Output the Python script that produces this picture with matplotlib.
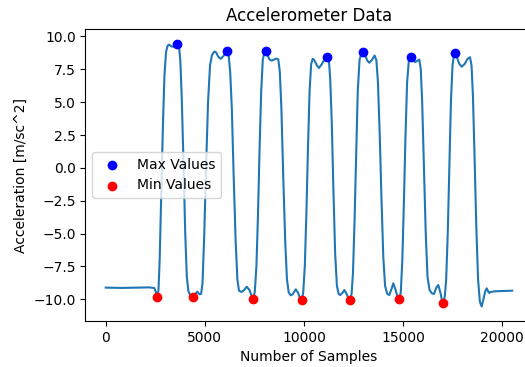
import matplotlib
matplotlib.use('Agg')
import matplotlib.pyplot as plt
import numpy as np


# accelerometer trace (sample index, m/s^2)
samples = [
    0, 800, 1600, 2200, 2450, 2540, 2605, 2660, 2720, 2800, 2880, 2960, 3040, 3120, 3200,
    3300, 3400, 3500, 3612, 3700, 3760, 3830, 3920, 4010, 4090, 4170, 4280, 4420, 4520,
    4620, 4720, 4810, 4880, 4960, 5060, 5160, 5260, 5360, 5480, 5560, 5680, 5800, 5930,
    6050, 6120, 6200, 6280, 6360, 6450, 6550, 6640, 6720, 6850, 6980, 7110, 7250, 7380,
    7445, 7520, 7600, 7680, 7760, 7840, 7920, 8000, 8067, 8150, 8260, 8372, 8500, 8620,
    8705, 8780, 8860, 8950, 9050, 9140, 9230, 9330, 9430, 9582, 9700, 9800, 9884, 9960,
    10040, 10120, 10200, 10280, 10360, 10440, 10520, 10650, 10757, 10900, 11050, 11175,
    11260, 11320, 11400, 11480, 11570, 11660, 11750, 11820, 11950, 12033, 12150, 12250,
    12320, 12400, 12470, 12550, 12630, 12710, 12800, 12900, 12975, 13100, 13200, 13294,
    13420, 13560, 13650, 13730, 13820, 13910, 14000, 14090, 14200, 14302, 14420, 14504,
    14620, 14720, 14806, 14880, 14960, 15040, 15120, 15200, 15290, 15396, 15500, 15598,
    15720, 15815, 15890, 15960, 16050, 16140, 16230, 16330, 16450, 16557, 16680, 16773,
    16880, 16960, 17026, 17100, 17170, 17250, 17330, 17410, 17490, 17560, 17615, 17700,
    17820, 17953, 18100, 18250, 18372, 18450, 18520, 18600, 18690, 18780, 18870, 18960,
    19050, 19140, 19214, 19300, 19345, 19420, 19600, 19900, 20200, 20500,
]
accel = [
    -9.12, -9.14, -9.12, -9.10, -9.15, -9.5, -9.81, -9.3, -7.0, -2.0, 3.0, 7.0, 8.8, 9.3, 9.38,
    9.25, 9.22, 9.32, 9.40, 9.2, 8.2, 5.5, 0.5, -5.0, -8.3, -9.4, -9.75, -9.81, -9.6,
    -9.43, -9.62, -9.6, -8.8, -5.5, 0.0, 5.0, 7.8, 8.6, 8.85, 8.8, 8.45, 8.3, 8.5,
    8.8, 8.88, 8.6, 7.2, 4.5, -0.5, -5.5, -8.5, -9.35, -9.45, -9.3, -9.05, -9.3, -9.85,
    -10.0, -9.4, -7.5, -3.5, 1.5, 5.8, 8.2, 8.8, 8.88, 8.6, 8.25, 8.16, 8.25, 8.32,
    8.25, 7.3, 4.5, -0.5, -5.5, -8.5, -9.5, -9.7, -9.62, -9.25, -9.5, -9.95, -10.06, -9.5,
    -7.5, -3.5, 1.5, 5.8, 7.9, 8.3, 8.2, 7.8, 7.6, 7.9, 8.3, 8.45,
    8.1, 6.8, 3.5, -1.5, -6.5, -9.0, -9.6, -9.68, -9.5, -9.3, -9.6, -9.95,
    -10.06, -9.6, -8.0, -4.0, 1.0, 5.8, 8.2, 8.75, 8.80, 8.5, 8.15, 8.0,
    8.2, 8.55, 8.2, 6.5, 2.5, -2.5, -6.8, -9.0, -9.6, -9.68, -9.2, -8.79,
    -9.3, -9.85, -10.0, -9.5, -7.0, -2.5, 2.5, 6.5, 8.2, 8.47, 8.25, 8.05,
    8.15, 8.24, 7.5, 5.0, 0.0, -5.0, -8.3, -9.3, -9.55, -9.6, -9.1, -8.92,
    -9.5, -10.1, -10.27, -9.8, -8.5, -5.0, 0.0, 5.0, 7.8, 8.55, 8.72, 8.5,
    7.95, 7.7, 7.9, 8.3, 8.42, 7.8, 5.5, 1.0, -4.5, -8.5, -10.2, -10.55,
    -10.0, -9.4, -9.17, -9.45, -9.52, -9.45, -9.4, -9.38, -9.37, -9.35,
]

max_x = [3612, 6120, 8067, 11175, 12975, 15396, 17615]
max_y = [9.40, 8.88, 8.88, 8.45, 8.80, 8.47, 8.72]
min_x = [2605, 4420, 7445, 9884, 12320, 14806, 17026]
min_y = [-9.81, -9.81, -10.0, -10.06, -10.06, -10.0, -10.27]

fig = plt.figure(figsize=(5.25, 3.67), dpi=100)
ax = fig.add_axes([0.1627, 0.1253, 0.8516, 0.7957])

ax.plot(np.array(samples), np.array(accel))
ax.scatter(max_x, max_y, color='b', label='Max Values', zorder=3)
ax.scatter(min_x, min_y, color='r', label='Min Values', zorder=3)

ax.set_xlim(-1025, 21525)
ax.set_ylim(-11.66, 10.57)
ax.set_xticks([0, 5000, 10000, 15000, 20000])
ax.set_title('Accelerometer Data')
ax.set_xlabel('Number of Samples')
ax.set_ylabel('Acceleration [m/sc^2]')
ax.legend(loc='center left')

fig.savefig('out.png', dpi=100)
